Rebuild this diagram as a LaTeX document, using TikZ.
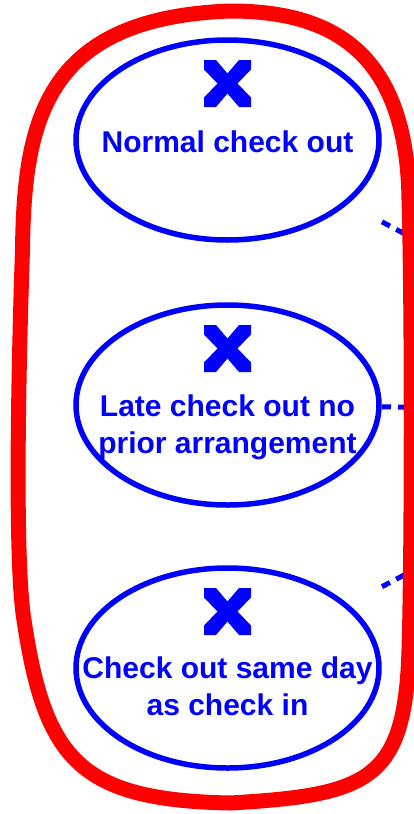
\documentclass[tikz,border=0pt]{standalone}
\usepackage{fontspec}
\setmainfont{Liberation Sans}
\usetikzlibrary{shapes.geometric}
\definecolor{ucblue}{RGB}{0,0,255}
\definecolor{ucred}{RGB}{255,0,0}
\tikzset{
  usecase/.style={ellipse, draw=ucblue, line width=5.5pt, minimum width=303pt, minimum height=200pt, inner sep=0pt},
  ucbox/.style={rectangle, draw=none, minimum width=309pt, minimum height=204pt, inner sep=0pt, outer sep=0pt},
  uclabel/.style={text=ucblue, font=\bfseries\fontsize{30}{37.5}\selectfont, inner sep=0pt, anchor=base},
  dep/.style={draw=ucblue, line width=5pt, dash pattern=on 9pt off 7pt},
  boundary/.style={draw=ucred, line width=15pt},
  xmark/.pic={\fill[ucblue] (-23.5,-23.5) -- (-11.5,-23.5) -- (0,-10) -- (11.5,-23.5) -- (23.5,-23.5) -- (23.5,-14) -- (10,0) -- (23.5,14) -- (23.5,23.5) -- (11.5,23.5) -- (0,10) -- (-11.5,23.5) -- (-23.5,23.5) -- (-23.5,14) -- (-10,0) -- (-23.5,-14) -- cycle;}
}
\begin{document}
\begin{tikzpicture}[x=1pt,y=-1pt]
\useasboundingbox (0,0) rectangle (414,814);
% use cases
\node[usecase] (e1) at (227.5,140) {};
\node[usecase] (e2) at (227.5,405) {};
\node[usecase] (e3) at (227.5,668) {};
\node[ucbox] (b1) at (e1.center) {};
\node[ucbox] (b2) at (e2.center) {};
\node[ucbox] (b3) at (e3.center) {};
\pic at (227.5,83.5) {xmark};
\pic at (227.5,348.5) {xmark};
\pic at (227.5,611.5) {xmark};
\node[uclabel] (t1) at (227.5,152) {Normal check out};
\node[uclabel] (t2a) at (227.5,416) {Late check out no};
\node[uclabel] (t2b) at (227.5,453.5) {prior arrangement};
\node[uclabel] (t3a) at (227.5,678) {Check out same day};
\node[uclabel] (t3b) at (227.5,715.5) {as check in};
% dependencies leaving the picture
\coordinate (f1) at (520,295);
\coordinate (f2) at (520,408.5);
\coordinate (f3) at (520,514);
\draw[dep] (b1) -- (f1);
\draw[dep] (b2) -- (f2);
\draw[dep] (b3) -- (f3);
% system boundary
\draw[boundary] (22.5,250) .. controls (24,120) and (45,18) .. (230,11)
  .. controls (330,11) and (407,50) .. (409,200)
  .. controls (412,300) and (412,550) .. (409,650)
  .. controls (405,780) and (370,795) .. (230,803)
  .. controls (80,800) and (45,760) .. (24,620)
  .. controls (14,560) and (19,350) .. cycle;
\end{tikzpicture}
\end{document}
